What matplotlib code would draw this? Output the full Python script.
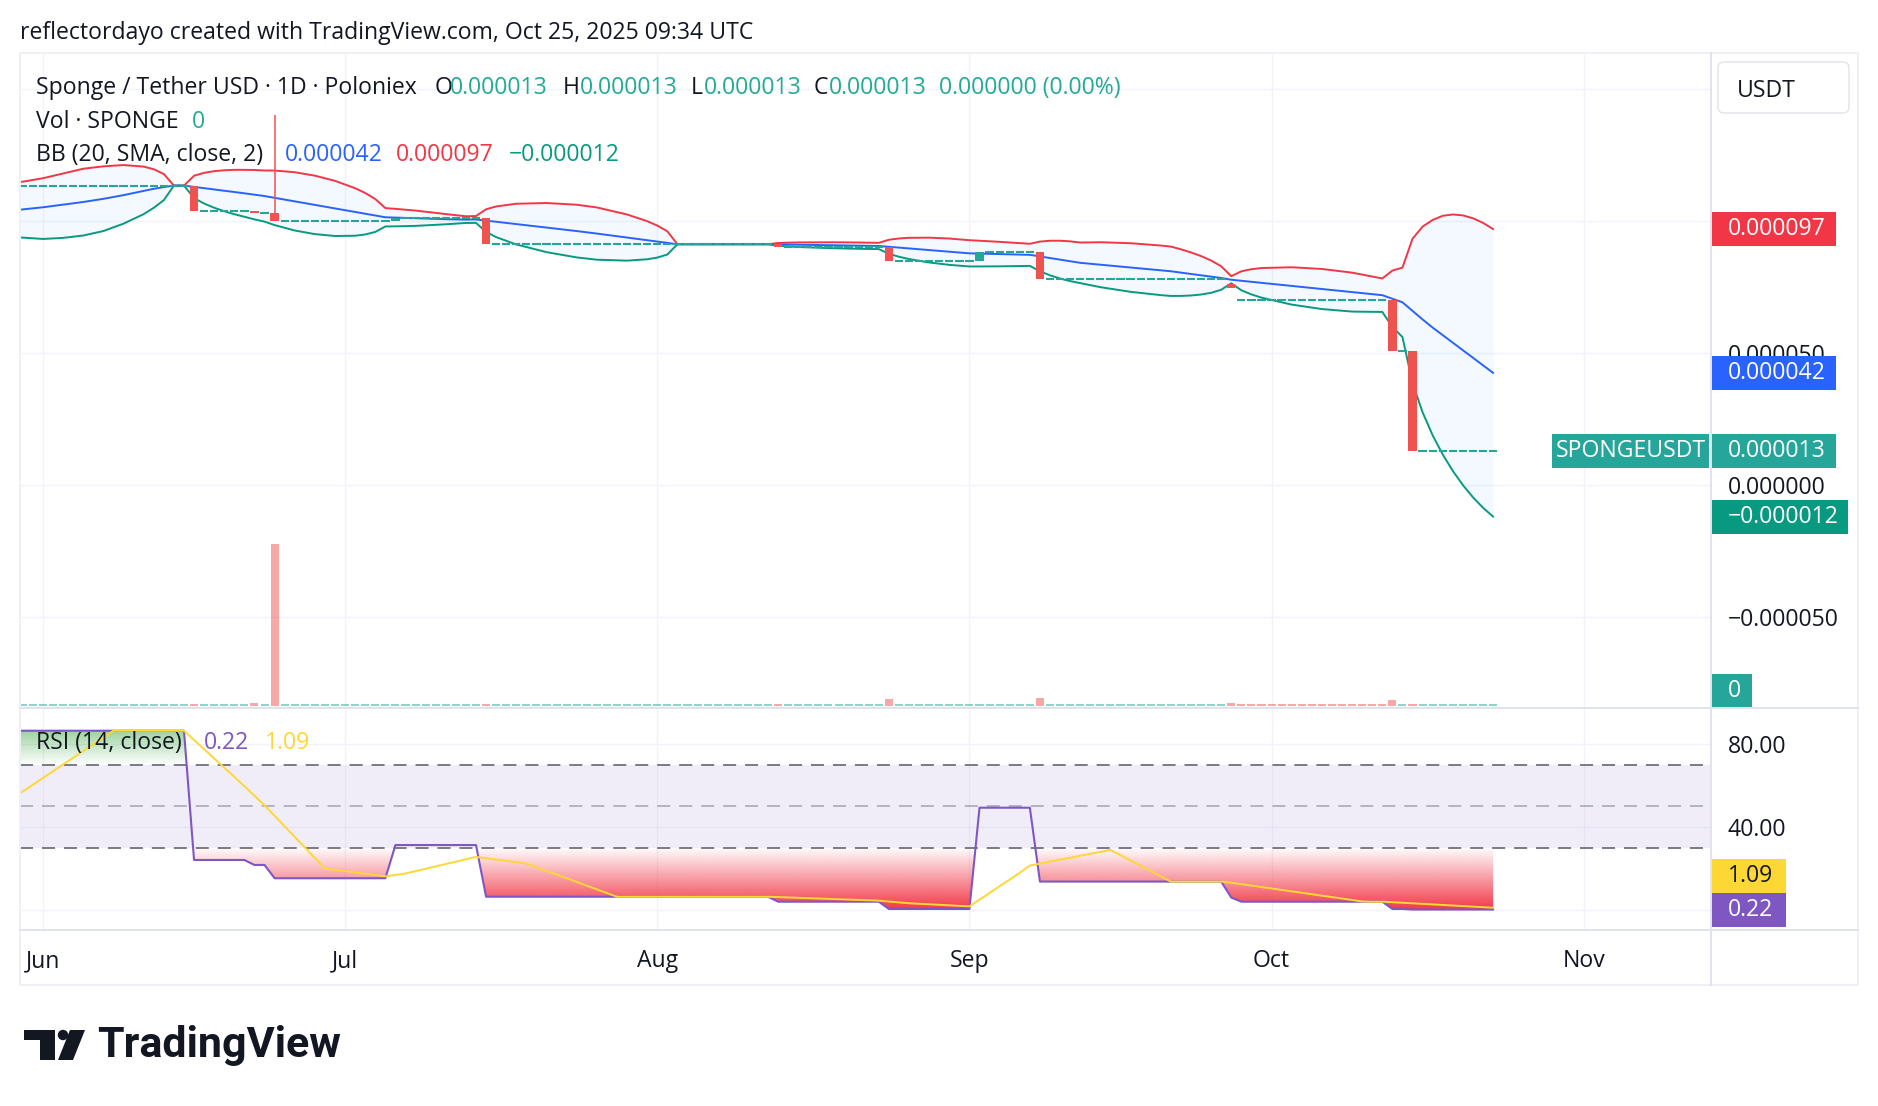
import numpy as np
import matplotlib
matplotlib.use("Agg")
import matplotlib.pyplot as plt
from matplotlib.patches import Rectangle, FancyBboxPatch, PathPatch, Polygon, Circle
from matplotlib.path import Path
from matplotlib.lines import Line2D
from matplotlib.colors import to_rgb, to_rgba
from matplotlib.transforms import blended_transform_factory, IdentityTransform

plt.rcParams['font.family'] = ['Open Sans', 'DejaVu Sans']

# ---------------- data ----------------
# x = days counted from 1 Jun 2025 (daily bars); prices in millionths of USDT
PRICE_UNIT = 1e-6
first_day, last_day = -3, 144

close_run_start = [-3, 15, 21, 23, 35, 44, 73, 84, 93, 99, 118, 119, 134, 136]
close_run_level = [113.4, 103.7, 103.0, 100.0, 101.3, 91.2, 90.0, 85.0, 88.1, 77.9, 74.8, 70.1, 50.9, 13.0]
gap_open_day = [118, 119]
gap_open_level = [76.1, 70.1]
wick_day = [23]
wick_high = [140.0]

vol_day = [21, 23, 84, 99, 118, 134]
vol_value = [1.9, 100.0, 4.5, 5.0, 1.9, 3.7]
vol_down_day = [15, 21, 23, 44, 73, 84, 99, 118, 119, 120, 121, 122, 123, 124, 125,
                126, 127, 128, 129, 130, 131, 132, 133, 134, 136]

bb_day = [-3, -2, 0, 2, 4, 6, 8, 10, 11, 12, 13, 14, 15, 16, 17, 18, 19, 20, 21, 22,
          23, 25, 27, 29, 31, 32, 33, 34, 35, 37, 40, 42, 43, 44, 45, 47, 50, 53, 55, 58,
          60, 61, 62, 63, 72, 73, 74, 75, 78, 80, 83, 84, 85, 86, 88, 90, 92, 93, 95, 98,
          99, 100, 101, 102, 103, 105, 108, 111, 112, 113, 114, 115, 116, 117, 118, 119, 120, 121, 124, 127,
          130, 133, 134, 135, 136, 137, 138, 139, 140, 141, 142, 143, 144]
bb_upper = [114.4, 114.9, 116.2, 118.0, 119.8, 120.7, 121.2, 120.6, 119.6, 117.8,
            113.4, 113.4, 117.14, 118.25, 118.87, 119.22, 119.38, 119.38, 119.32, 119.13,
            119.11, 118.48, 117.17, 115.20, 112.42, 110.60, 108.30, 104.89, 104.60, 103.95,
            102.62, 101.79, 101.88, 104.44, 105.51, 106.54, 106.81, 106.17, 105.14, 102.47,
            99.93, 98.27, 96.11, 91.2, 91.2, 91.66, 91.80, 91.88, 91.94, 91.90,
            91.73, 92.89, 93.38, 93.63, 93.69, 93.36, 92.72, 92.53, 92.10, 91.37,
            92.20, 92.52, 92.53, 92.29, 91.84, 91.96, 91.59, 90.71, 90.31, 89.28,
            88.10, 86.71, 85.04, 82.86, 79.10, 80.95, 81.74, 82.18, 82.48, 81.83,
            80.44, 78.23, 81.22, 82.35, 93.29, 97.88, 100.4, 101.97, 102.47, 102.13,
            101.04, 99.30, 96.95]
bb_basis = [104.0, 104.4, 105.2, 106.2, 107.2, 108.4, 109.8, 111.4, 112.2, 112.85,
            113.4, 113.4, 112.92, 112.43, 111.95, 111.46, 110.98, 110.49, 109.97, 109.45,
            108.78, 107.44, 106.10, 104.76, 103.42, 102.75, 102.08, 101.41, 101.29, 101.05,
            100.69, 100.52, 100.59, 100.15, 99.71, 98.83, 97.51, 96.19, 95.24, 93.73,
            92.72, 92.21, 91.71, 91.2, 91.2, 91.14, 91.08, 91.02, 90.84, 90.72,
            90.54, 90.23, 89.92, 89.61, 88.99, 88.37, 87.75, 87.66, 87.47, 87.18,
            86.58, 85.97, 85.37, 84.76, 84.16, 83.45, 82.38, 81.32, 80.96, 80.45,
            79.94, 79.43, 78.92, 78.41, 77.75, 77.36, 76.97, 76.58, 75.41, 74.24,
            73.07, 71.90, 70.55, 69.20, 65.95, 62.71, 59.62, 56.76, 53.91, 51.05,
            48.20, 45.34, 42.49]
bb_lower = [93.9, 93.7, 93.2, 93.6, 94.5, 96.2, 99.0, 102.6, 105.0, 107.9,
            113.4, 113.4, 108.69, 106.61, 105.02, 103.70, 102.57, 101.60, 100.61, 99.77,
            98.45, 96.40, 95.03, 94.32, 94.42, 94.90, 95.86, 97.93, 97.98, 98.15,
            98.76, 99.25, 99.29, 95.85, 93.90, 91.11, 88.20, 86.20, 85.34, 84.98,
            85.50, 86.15, 87.30, 91.2, 91.2, 90.62, 90.36, 90.16, 89.74, 89.54,
            89.35, 87.57, 86.46, 85.59, 84.29, 83.38, 82.78, 82.78, 82.83, 82.99,
            80.95, 79.42, 78.20, 77.23, 76.47, 74.94, 73.17, 71.92, 71.61, 71.62,
            71.78, 72.15, 72.80, 73.96, 76.40, 73.76, 72.20, 70.97, 68.33, 66.64,
            65.69, 65.55, 59.87, 56.04, 38.61, 27.53, 18.8, 11.55, 5.34, -0.03,
            -4.65, -8.62, -11.97]

rsi_run_start = [-3, 15, 21, 23, 35, 44, 73, 84, 93, 99, 118, 119, 134, 136]
rsi_run_level = [86.4, 24.1, 21.7, 15.3, 31.3, 6.4, 4.0, 0.5, 49.3, 13.7, 6.0, 4.0, 0.5, 0.22]
rsi_ma_day = [-3, 7, 14, 20, 22, 28, 34, 36, 43, 48, 57, 72, 83, 86, 92, 97, 98, 106,
              112, 117, 118, 131, 132, 133, 135, 144]
rsi_ma = [53.9, 86.4, 86.4, 59.7, 50.46, 19.99, 16.21, 17.59, 25.59, 22.41, 6.4, 6.4,
          4.51, 3.25, 1.75, 17.93, 21.41, 28.96, 13.7, 13.7, 13.15, 4.14, 4.0, 4.0, 3.5, 1.09]

month_day = [0, 30, 61, 92, 122, 153]
month_name = ['Jun', 'Jul', 'Aug', 'Sep', 'Oct', 'Nov']
price_tick = [-50, 0, 50, 100, 150]
price_tick_shown = [-50, 0, 50]          # 100 and 150 sit under the tags / USDT box
rsi_tick = [0, 40, 80]
rsi_tick_shown = [40, 80]

# ---------------- derived per-day series ----------------
U = PRICE_UNIT
days = np.arange(first_day, last_day + 1)
close = np.asarray(close_run_level)[np.searchsorted(close_run_start, days, side='right') - 1]
open_ = np.concatenate([[close[0]], close[:-1]])
open_[np.asarray(gap_open_day) - first_day] = gap_open_level
high = np.maximum(open_, close)
high[np.asarray(wick_day) - first_day] = wick_high
rsi = np.asarray(rsi_run_level)[np.searchsorted(rsi_run_start, days, side='right') - 1]
vol = np.zeros(len(days))
vol[np.asarray(vol_day) - first_day] = vol_value
vol_down = np.isin(days, vol_down_day)
bbd = np.asarray(bb_day, float)
bbu, bbm, bbl = (np.asarray(a) * U for a in (bb_upper, bb_basis, bb_lower))


def pfmt(v):
    return f"{v * U:.6f}".replace('-', '\u2212')


# ---------------- style ----------------
W, H, DPI = 1878, 1106, 100
FS = 16.6
TXT = '#131722'
UP, DN = '#26a69a', '#ef5350'
GRID = '#f0f3fa'
SEP = '#e0e3eb'
IT = IdentityTransform()

fig = plt.figure(figsize=(W / DPI, H / DPI), dpi=DPI, facecolor='white')

AX_L, AX_R = 20, 1711
MAIN_T, MAIN_B = 53, 708
RSI_T, RSI_B = 708, 930
axw_px = AX_R - AX_L

ax = fig.add_axes([AX_L / W, 1 - MAIN_B / H, axw_px / W, (MAIN_B - MAIN_T) / H])
axr = fig.add_axes([AX_L / W, 1 - RSI_B / H, axw_px / W, (RSI_B - RSI_T) / H], sharex=ax)
axv = ax.twinx()
# volume overlay sits above the price grid (it never meets the candles)
ax.set_zorder(2)
axv.set_zorder(3)
ax.patch.set_visible(False)
axv.patch.set_visible(False)

XMIN, XMAX = -2.284, 165.64
P_TOP, P_BOT = (485 - MAIN_T) / 2.64, (485 - MAIN_B) / 2.64
R_TOP, R_BOT = (910 - RSI_T) / 2.075, (910 - RSI_B) / 2.075

# ----- main pane -----
ax.fill_between(bbd, bbu, bbl, color='#2196f3', alpha=0.05, lw=0, zorder=1)
ax.plot(bbd, bbu, color='#f23645', lw=1.4, zorder=2)
ax.plot(bbd, bbm, color='#2962ff', lw=1.4, zorder=2)
ax.plot(bbd, bbl, color='#089981', lw=1.4, zorder=2)

flat = open_ == close
body = ~flat
isup = close > open_
wk = high > np.maximum(open_, close)
ax.vlines(days[wk], np.maximum(open_, close)[wk] * U, high[wk] * U, color=DN, lw=1.1, zorder=3.9)
ax.bar(days[body], (close - open_)[body] * U, bottom=open_[body] * U, width=0.82,
       color=[UP if u else DN for u in isup[body]], lw=0, zorder=4)
ax.hlines(close[flat] * U, days[flat] - 0.41, days[flat] + 0.41, color=UP, lw=1.5, zorder=4)

ax.set_xlim(XMIN, XMAX)
ax.set_ylim(P_BOT * U, P_TOP * U)
ax.yaxis.tick_right()
ax.set_yticks(np.asarray(price_tick) * U)
ax.set_yticklabels([pfmt(t) if t in price_tick_shown else '' for t in price_tick])
ax.tick_params(axis='y', length=0, pad=12, labelsize=FS, labelcolor=TXT)
ax.tick_params(axis='x', length=0, labelbottom=False)
ax.set_axisbelow(True)
ax.grid(True, color=GRID, lw=1.0)
for s in ax.spines.values():
    s.set_visible(False)

# volume overlay
vpx = 1.62
axv.set_ylim(-2 / vpx, (MAIN_B - MAIN_T - 2) / vpx)
vcol = [to_rgba(DN, 0.5) if d else to_rgba(UP, 0.5) for d in vol_down]
axv.bar(days, np.maximum(vol, 1.25), width=0.8, color=vcol, lw=0)
axv.set_yticks([])
axv.tick_params(length=0, labelright=False, labelleft=False)
for s in axv.spines.values():
    s.set_visible(False)

# ----- RSI pane -----
axr.axhspan(30, 70, facecolor='#7e57c2', alpha=0.1, lw=0, zorder=0.6)
axr.axhline(70, color='#787b86', lw=1.4, ls=(0, (6.7, 4.6)), zorder=1)
axr.axhline(50, color='#787b86', alpha=0.5, lw=1.4, ls=(0, (6.7, 4.6)), zorder=1)
axr.axhline(30, color='#787b86', lw=1.4, ls=(0, (6.7, 4.6)), zorder=1)


def gradient_fill(a, x, y, ref, where, color, lo, hi, alpha_at):
    coll = a.fill_between(x, y, ref, where=where, interpolate=True,
                          facecolor='none', edgecolor='none')
    paths = [p for p in coll.get_paths() if len(p.vertices)]
    if not paths:
        return
    cp = Path.make_compound_path(*paths)
    patch = PathPatch(cp, transform=a.transData, facecolor='none', edgecolor='none')
    a.add_patch(patch)
    n = 300
    centers = lo + (np.arange(n) + 0.5) * (hi - lo) / n
    img = np.zeros((n, 1, 4))
    img[..., :3] = to_rgb(color)
    img[:, 0, 3] = alpha_at(centers)
    im = a.imshow(img, extent=[XMIN, XMAX, lo, hi], origin='lower', aspect='auto',
                  interpolation='bilinear', zorder=1.5)
    im.set_clip_path(patch)


gradient_fill(axr, days.astype(float), rsi, 30.0, rsi < 30, '#f23645', 0, 30,
              lambda v: np.clip((30 - v) / 30, 0, 1))
gradient_fill(axr, days.astype(float), rsi, 70.0, rsi > 70, '#4caf50', 70, 100,
              lambda v: np.clip((v - 70) / 30, 0, 1))

axr.plot(days, rsi, color='#7e57c2', lw=1.5, zorder=5)
axr.plot(rsi_ma_day, rsi_ma, color='#fdd835', lw=1.4, zorder=6)

axr.set_xlim(XMIN, XMAX)
axr.set_ylim(R_BOT, R_TOP)
axr.yaxis.tick_right()
axr.set_yticks(rsi_tick)
axr.set_yticklabels([f"{t:.2f}" if t in rsi_tick_shown else '' for t in rsi_tick])
axr.tick_params(axis='y', length=0, pad=12, labelsize=FS, labelcolor=TXT)
axr.set_xticks(month_day)
axr.set_xticklabels(month_name)
axr.tick_params(axis='x', length=0, pad=14, labelsize=FS, labelcolor=TXT)
axr.set_axisbelow(True)
axr.grid(True, color=GRID, lw=1.0)
for s in axr.spines.values():
    s.set_visible(False)


# ----- price-scale tags -----
def tag(a, yval, txt, fc, tc='white', w=124, h=34, left=1, tdx=16, yaxes=False):
    trans = blended_transform_factory(a.transAxes, a.transAxes if yaxes else a.transData)
    y0, y1 = (0, 1) if yaxes else a.get_ylim()
    hp = a.get_position().height * H
    dy = h * (y1 - y0) / hp
    r = Rectangle((1 + left / axw_px, yval - dy / 2), w / axw_px, dy, transform=trans,
                  facecolor=fc, edgecolor='none', clip_on=False, zorder=20)
    a.add_artist(r)
    a.text(1 + (left + tdx) / axw_px, yval, txt, transform=trans, color=tc, fontsize=FS,
           va='center', ha='left', clip_on=False, zorder=21)


tag(ax, bb_upper[-1] * U, pfmt(bb_upper[-1]), '#f23645')
tag(ax, bb_basis[-1] * U, pfmt(bb_basis[-1]), '#2962ff')
tag(ax, close[-1] * U, pfmt(close[-1]), UP)
tag(ax, bb_lower[-1] * U, pfmt(bb_lower[-1]), '#089981', w=136)
# symbol label left of the price scale
trans = blended_transform_factory(ax.transAxes, ax.transData)
hp = ax.get_position().height * H
dyp = 34 * (P_TOP - P_BOT) * U / hp
ax.add_artist(Rectangle((1 - 159 / axw_px, close[-1] * U - dyp / 2), 157 / axw_px, dyp,
                        transform=trans, facecolor=UP, edgecolor='none', clip_on=False, zorder=20))
ax.text(1 - 80.5 / axw_px, close[-1] * U, 'SPONGEUSDT', transform=trans, color='white',
        fontsize=FS, va='center', ha='center', zorder=21)
# volume value tag at the pane bottom
tag(ax, 17 / (MAIN_B - MAIN_T), f"{vol[-1]:.0f}", UP, w=40, yaxes=True)
# RSI tags (MA tag stacked above the RSI tag)
rsi_box = 34 * (R_TOP - R_BOT) / (RSI_B - RSI_T)
tag(axr, 0.0, f"{rsi[-1]:.2f}", '#7e57c2', w=74)
tag(axr, rsi_box, f"{rsi_ma[-1]:.2f}", '#fdd835', tc=TXT, w=74)


# ----- frame / UI lines -----
def pline(x0, y0, x1, y1, color=SEP, lw=1.44):
    fig.add_artist(Line2D([x0, x1], [H - y0, H - y1], transform=IT, color=color, lw=lw, zorder=50))


pline(20, 53, 1858, 53, color='#eef0f3')
pline(20, 985, 1858, 985, color='#eef0f3')
pline(20, 53, 20, 985, color='#eef0f3')
pline(1858, 53, 1858, 985, color='#eef0f3')
pline(20, MAIN_B, 1858, MAIN_B)
pline(20, RSI_B, 1858, RSI_B)
pline(AX_R, 53, AX_R, 985)

# USDT box
fig.add_artist(FancyBboxPatch((1718, H - 113), 131, 51, boxstyle='round,pad=0,rounding_size=6',
                              transform=IT, facecolor='white', edgecolor=SEP, lw=1.0, zorder=50))


def ptext(x, y, s, color=TXT, size=FS, **kw):
    fig.text(x, H - y - 3, s, transform=IT, color=color, fontsize=size, va='center', ha='left',
             zorder=60, **kw)


ptext(1737, 88, 'USDT')
ptext(20, 30, 'reflectordayo created with TradingView.com, Oct 25, 2025 09:34 UTC')

LEG = '#22ab94'
chg = (close[-1] - close[-2]) * U
ptext(36, 85, 'Sponge / Tether USD \u00b7 1D \u00b7 Poloniex')
ptext(435, 85, 'O'); ptext(450, 85, pfmt(open_[-1]), LEG)
ptext(563, 85, 'H'); ptext(580, 85, pfmt(high[-1]), LEG)
ptext(691, 85, 'L'); ptext(704, 85, pfmt(min(open_[-1], close[-1])), LEG)
ptext(814, 85, 'C'); ptext(829, 85, pfmt(close[-1]), LEG)
ptext(939, 85, f"{chg:.6f} ({0.0:.2f}%)", LEG)
ptext(36, 118.6, 'Vol \u00b7 SPONGE'); ptext(192, 118.6, f"{vol[-1]:.0f}", LEG)
ptext(36, 152, 'BB (20, SMA, close, 2)')
ptext(285, 152, pfmt(bb_basis[-1]), '#2962ff')
ptext(396, 152, pfmt(bb_upper[-1]), '#f23645')
ptext(509, 152, pfmt(bb_lower[-1]), '#089981')
ptext(36, 740, 'RSI (14, close)')
ptext(204, 740, f"{rsi[-1]:.2f}", '#7e57c2')
ptext(265, 740, f"{rsi_ma[-1]:.2f}", '#fdd835')

# TradingView logo
fig.add_artist(Polygon([(24, H - 1030), (55, H - 1030), (55, H - 1060), (40, H - 1060),
                        (40, H - 1040), (24, H - 1040)], closed=True, transform=IT,
                       facecolor=TXT, edgecolor='none', zorder=60))
fig.add_artist(Circle((63, H - 1035), 5.2, transform=IT, facecolor=TXT, edgecolor='none', zorder=60))
fig.add_artist(Polygon([(70, H - 1030), (85, H - 1030), (73, H - 1060), (58, H - 1060)],
                       closed=True, transform=IT, facecolor=TXT, edgecolor='none', zorder=60))
fig.text(97, H - 1045, 'TradingView', transform=IT, color=TXT, fontsize=31, va='center',
         ha='left', fontweight='bold', family=['Roboto', 'DejaVu Sans'], zorder=60)

fig.savefig('out.png', dpi=DPI, facecolor='white')
